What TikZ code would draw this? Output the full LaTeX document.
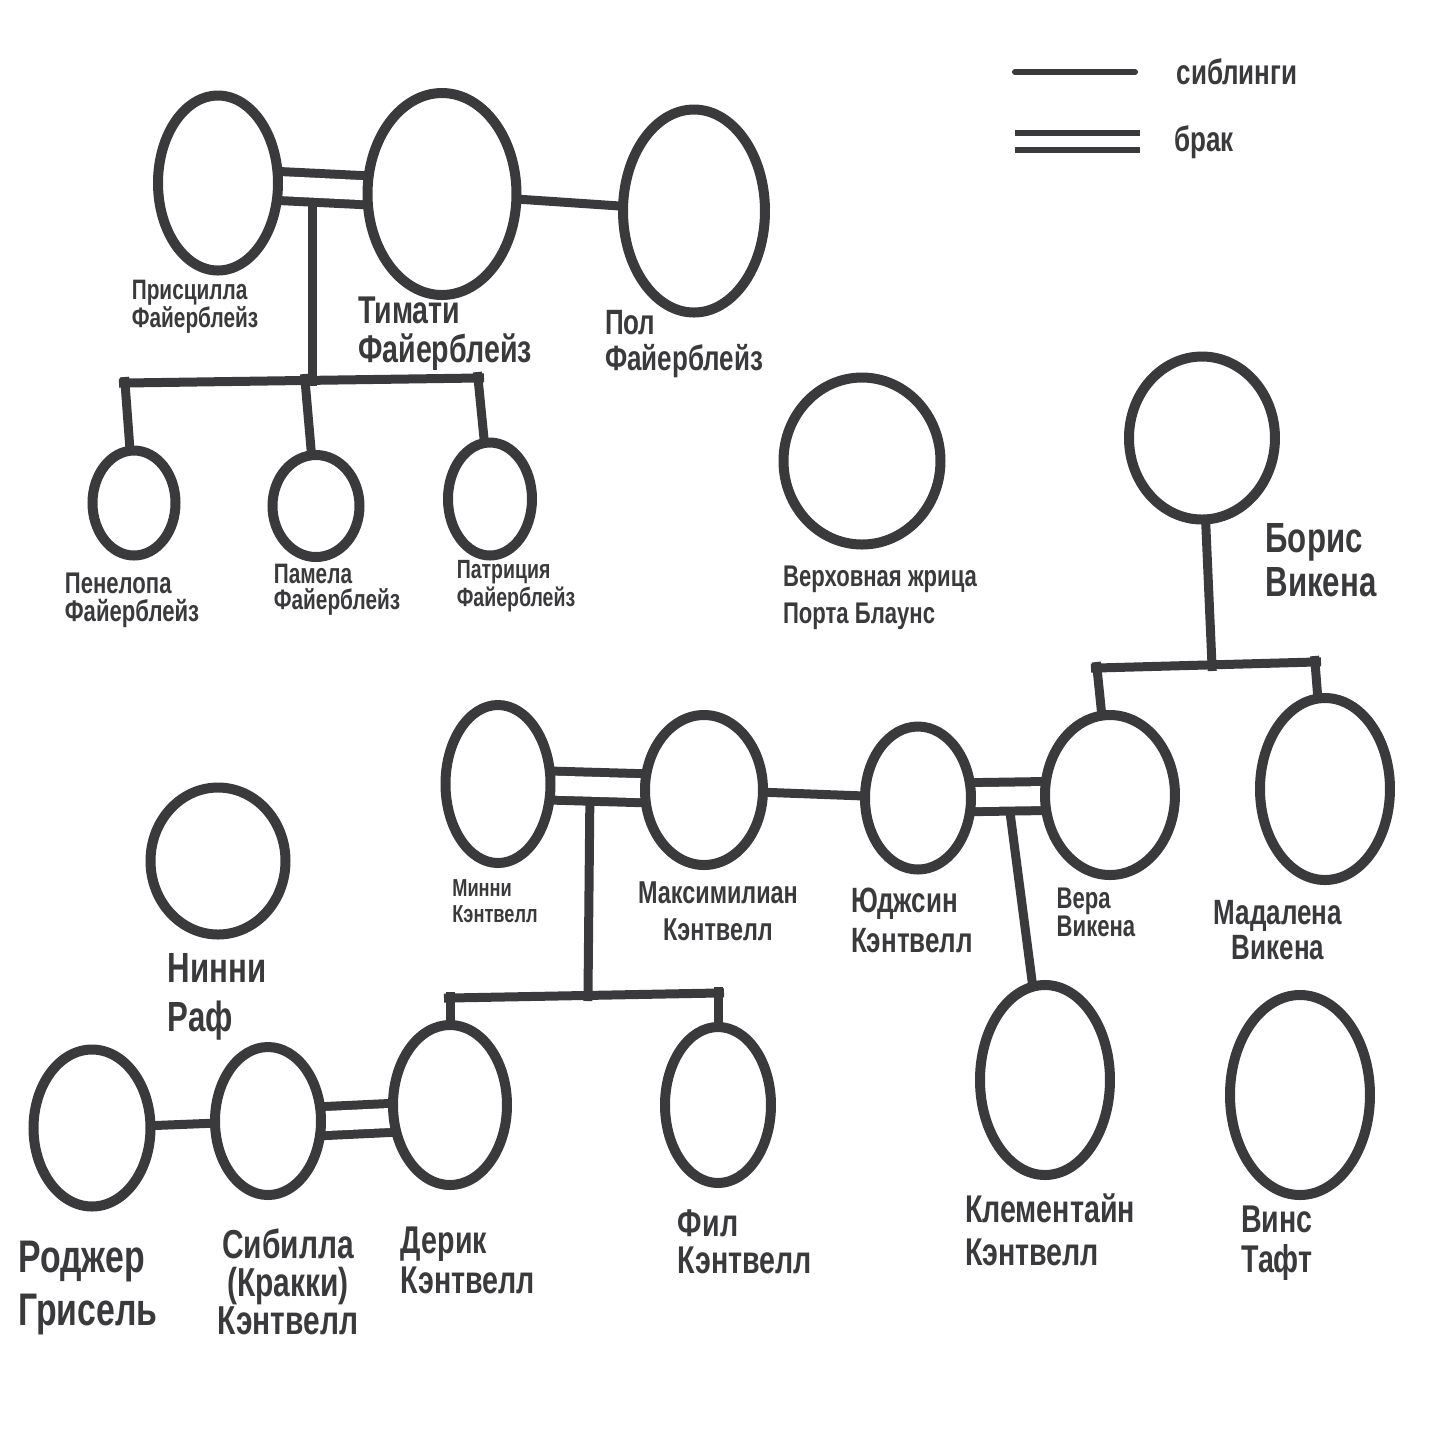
\documentclass[tikz,border=0pt]{standalone}
\usepackage{fontspec}
\setmainfont{Liberation Sans}[FakeStretch=0.74]
\usetikzlibrary{shapes.geometric,backgrounds}
\definecolor{ink}{RGB}{58,58,60}
\tikzset{
  person/.style={ellipse, draw=ink, line width=1mm, fill=white, inner sep=0pt},
  osize/.style 2 args={minimum width=#1mm, minimum height=#2mm},
  link/.style={draw=ink, line width=0.9mm, shorten <=-0.6mm, shorten >=-0.6mm},
  marriage/.style={link, double=white, double distance=2mm},
  keyline/.style={draw=ink, line width=0.6mm, line cap=round},
  keydouble/.style={draw=ink, line width=0.6mm, double=white, double distance=1.1mm},
  lbl/.style 2 args={text=ink, align=left, inner sep=0pt, font=\fontsize{#1}{#2}\selectfont\bfseries},
}
\begin{document}
\begin{tikzpicture}[x=0.1mm, y=-0.1mm]
  \useasboundingbox (0,0) rectangle (1429,1429);

  % Firebreaths
  \node[person, osize={12.0}{17.5}] (prisc) at (218,183) {};
  \node[person, osize={14.9}{20.2}] (tim) at (442,194) {};
  \node[person, osize={14.2}{20.3}] (pol) at (694,211) {};
  \node[person, osize={8.3}{10.5}] (pen) at (134,503) {};
  \node[person, osize={8.7}{10.2}] (pam) at (316,506) {};
  \node[person, osize={8.4}{11.3}] (pat) at (490,499) {};
  \node[person, osize={15.7}{16.7}] (porta) at (862,461) {};
  \node[person, osize={14.6}{16.3}] (boris) at (1202,438) {};
  % Cantwells
  \node[person, osize={10.5}{15.8}] (minni) at (498,784) {};
  \node[person, osize={11.8}{15.0}] (maks) at (704,790) {};
  \node[person, osize={10.6}{14.3}] (yuj) at (918,798) {};
  \node[person, osize={13.0}{16.0}] (vera) at (1110,795) {};
  \node[person, osize={13.0}{18.2}] (mad) at (1325,789) {};
  \node[person, osize={13.5}{14.7}] (ninni) at (218,861) {};
  \node[person, osize={11.7}{15.7}] (roger) at (92,1128) {};
  \node[person, osize={10.6}{14.8}] (sib) at (268,1121) {};
  \node[person, osize={11.4}{16.0}] (derik) at (450,1105) {};
  \node[person, osize={10.6}{15.6}] (fil) at (718,1105) {};
  \node[person, osize={13.0}{19.0}] (klem) at (1045,1080) {};
  \node[person, osize={14.0}{20.0}] (vins) at (1300,1095) {};

  % labels
  \node[lbl={8}{8}] (priscL) at (195,307) {Присцилла\\Файерблейз};
  \node[lbl={11}{11}] (timL) at (445,334) {Тимати\\Файерблейз};
  \node[lbl={10}{10}] (polL) at (684,344) {Пол\\Файерблейз};
  \node[lbl={8.5}{8}] (penL) at (132,600) {Пенелопа\\Файерблейз};
  \node[lbl={8}{7.5}] (pamL) at (337,590) {Памела\\Файерблейз};
  \node[lbl={7.5}{7}] (patL) at (516,586) {Патриция\\Файерблейз};
  \node[lbl={8.5}{10.5}] (portaL) at (880,598) {Верховная жрица\\Порта Блаунс};
  \node[lbl={12}{12.5}] (borisL) at (1321,560) {Борис\\Викена};
  \node[lbl={7}{7.4}] (minniL) at (495,901) {Минни\\Кэнтвелл};
  \node[lbl={9}{10.5}, align=center] (maksL) at (718,911) {Максимилиан\\Кэнтвелл};
  \node[lbl={10}{11.4}] (yujL) at (912,920) {Юджсин\\Кэнтвелл};
  \node[lbl={8.5}{8}] (veraL) at (1096,912) {Вера\\Викена};
  \node[lbl={10}{8.5}, align=center] (madL) at (1278,930) {Мадалена\\Викена};
  \node[lbl={12}{14}] (ninniL) at (217,997) {Нинни\\Раф};
  \node[lbl={13}{15}] (rogerL) at (88,1288) {Роджер\\Грисель};
  \node[lbl={11.5}{10.8}, align=center] (sibL) at (288,1282) {Сибилла\\(Кракки)\\Кэнтвелл};
  \node[lbl={11}{11.4}] (derikL) at (468,1260) {Дерик\\Кэнтвелл};
  \node[lbl={11}{10.5}] (filL) at (745,1242) {Фил\\Кэнтвелл};
  \node[lbl={11}{12.2}] (klemL) at (1050,1230) {Клементайн\\Кэнтвелл};
  \node[lbl={11}{11.4}] (vinsL) at (1277,1243) {Винс\\Тафт};

  % legend
  \coordinate (sibA) at (1015,72);
  \coordinate (sibB) at (1135,72);
  \coordinate (marA) at (1015,141);
  \coordinate (marB) at (1140,141);
  \node[lbl={10}{10}] (sibText) at (1237,72) {сиблинги};
  \node[lbl={10}{10}] (marText) at (1204,142) {брак};

  % junctions
  \coordinate (ptJ) at (312,183);
  \coordinate (ptK) at (312,380);
  \coordinate (kidsL) at (125,383);
  \coordinate (kidsM) at (305,380);
  \coordinate (kidsR) at (478,378);
  \coordinate (borK) at (1212,665);
  \coordinate (borL) at (1097,668);
  \coordinate (borR) at (1315,662);
  \coordinate (mmJ) at (590,787);
  \coordinate (mmK) at (588,995);
  \coordinate (cantL) at (450,998);
  \coordinate (cantR) at (718,993);
  \coordinate (yvJ) at (1008,797);

  \begin{scope}[on background layer]
    \fill[white] (0,0) rectangle (1429,1429);

    \draw[link] (ptJ) -- (ptK);
    \draw[link] (kidsL) -- (kidsR);
    \draw[link] (kidsL) -- (pen);
    \draw[link] (kidsM) -- (pam);
    \draw[link] (kidsR) -- (pat);
    \draw[marriage] (prisc) -- (tim);
    \draw[link] (tim) -- (pol);

    \draw[link] (boris) -- (borK);
    \draw[link] (borL) -- (borR);
    \draw[link] (borL) -- (vera);
    \draw[link] (borR) -- (mad);

    \draw[link] (mmJ) -- (mmK);
    \draw[link] (cantL) -- (cantR);
    \draw[link] (cantL) -- (derik);
    \draw[link] (cantR) -- (fil);
    \draw[marriage] (minni) -- (maks);
    \draw[link] (maks) -- (yuj);
    \draw[link] (yvJ) -- (klem);
    \draw[marriage] (yuj) -- (vera);

    \draw[link] (roger) -- (sib);
    \draw[marriage] (sib.east) -- (derik.192);

    \draw[keyline] (sibA) -- (sibB);
    \draw[keydouble] (marA) -- (marB);
  \end{scope}
\end{tikzpicture}
\end{document}
